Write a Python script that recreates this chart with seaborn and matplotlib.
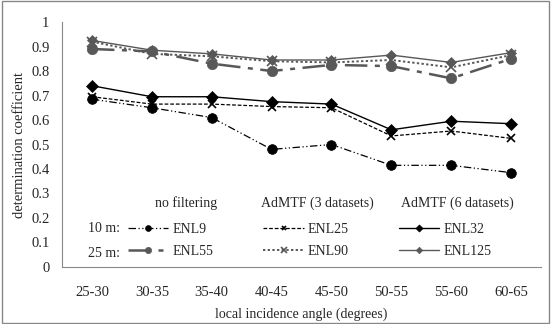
import numpy as np
import pandas as pd
import seaborn as sns
import matplotlib.pyplot as plt
from matplotlib.patches import Rectangle

angles = ["25-30", "30-35", "35-40", "40-45", "45-50", "50-55", "55-60", "60-65"]

enl9 = [0.685, 0.65, 0.61, 0.48, 0.50, 0.415, 0.415, 0.385]
enl25 = [0.695, 0.665, 0.665, 0.655, 0.65, 0.535, 0.555, 0.525]
enl32 = [0.74, 0.695, 0.695, 0.675, 0.665, 0.56, 0.595, 0.585]
enl55 = [0.89, 0.88, 0.83, 0.80, 0.825, 0.82, 0.77, 0.85]
enl90 = [0.92, 0.87, 0.86, 0.84, 0.835, 0.845, 0.815, 0.865]
enl125 = [0.925, 0.885, 0.87, 0.845, 0.845, 0.865, 0.835, 0.875]

sns.set_style("white")
plt.rcParams['font.family'] = ['Liberation Serif', 'DejaVu Serif']

gray = '#585858'
# legend order: filled column by column (10 m / 25 m per filter)
styles = {
    'ENL9':   dict(vals=enl9, color='black', ls=(0, (6, 2, 1, 2, 1, 2)), lw=0.9, marker='o', ms=7),
    'ENL55':  dict(vals=enl55, color=gray, ls=(0, (9, 3, 2, 3)), lw=1.8, marker='o', ms=7.5),
    'ENL25':  dict(vals=enl25, color='black', ls=(0, (3, 1.5)), lw=0.9, marker='x', ms=6),
    'ENL90':  dict(vals=enl90, color=gray, ls=(0, (1.2, 1.2)), lw=1.4, marker='x', ms=7),
    'ENL32':  dict(vals=enl32, color='black', ls='-', lw=1.0, marker='D', ms=6),
    'ENL125': dict(vals=enl125, color=gray, ls='-', lw=1.0, marker='D', ms=5.5),
}

fig = plt.figure(figsize=(5.51, 3.24), dpi=100)
ax = fig.add_axes([0.1125, 0.176, 0.8695, 0.756])

x = np.arange(len(angles))
for name, s in styles.items():
    sns.lineplot(x=x, y=s['vals'], ax=ax, color=s['color'], linestyle=s['ls'],
                 linewidth=s['lw'], marker=s['marker'], markersize=s['ms'],
                 markeredgecolor=s['color'], markeredgewidth=1.2 if s['marker'] == 'x' else 0.5,
                 label=name)

ax.set_xlim(-0.5, len(angles) - 0.5)
ax.set_ylim(0, 1)
ax.set_yticks(np.arange(0, 1.01, 0.1))
ax.set_yticklabels(['0', '0.1', '0.2', '0.3', '0.4', '0.5', '0.6', '0.7', '0.8', '0.9', '1'])
ax.set_xticks(np.arange(-0.5, len(angles), 1.0))
ax.set_xticklabels([])
ax.set_xticks(x, minor=True)
ax.set_xticklabels(angles, minor=True)
ax.tick_params(axis='x', which='minor', length=0, pad=14, labelsize=10.5)
ax.tick_params(axis='x', which='major', length=4, direction='out', color='#888888', width=0.8)
ax.tick_params(axis='y', length=5, direction='out', color='#888888', width=0.8, labelsize=10.5, pad=4)
for side in ['top', 'right']:
    ax.spines[side].set_visible(False)
for side in ['left', 'bottom']:
    ax.spines[side].set_color('#888888')
    ax.spines[side].set_linewidth(0.8)

ax.set_xlabel('local incidence angle (degrees)', fontsize=10, labelpad=6)
ax.set_ylabel('determination coefficient', fontsize=10.5, labelpad=4)

h, l = ax.get_legend_handles_labels()
ax.legend(h, l, ncol=3, frameon=False, fontsize=10, loc='center left',
          bbox_to_anchor=(0.138, 0.108), borderaxespad=0, borderpad=0,
          handlelength=2.9, handletextpad=0.3, columnspacing=3.6,
          labelspacing=0.65, markerscale=0.6)

hdr = dict(transform=ax.transAxes, fontsize=10, ha='center', va='center')
ax.text(0.259, 0.261, 'no filtering', **hdr)
ax.text(0.533, 0.261, 'AdMTF (3 datasets)', **hdr)
ax.text(0.825, 0.261, 'AdMTF (6 datasets)', **hdr)
ax.text(0.121, 0.157, '10 m:', transform=ax.transAxes, fontsize=10, ha='right', va='center')
ax.text(0.121, 0.057, '25 m:', transform=ax.transAxes, fontsize=10, ha='right', va='center')

fig.patches.append(Rectangle((0.003, 0.003), 0.994, 0.994, transform=fig.transFigure,
                             fill=False, edgecolor='#888888', linewidth=1.0))

fig.savefig('out.png', dpi=100)
